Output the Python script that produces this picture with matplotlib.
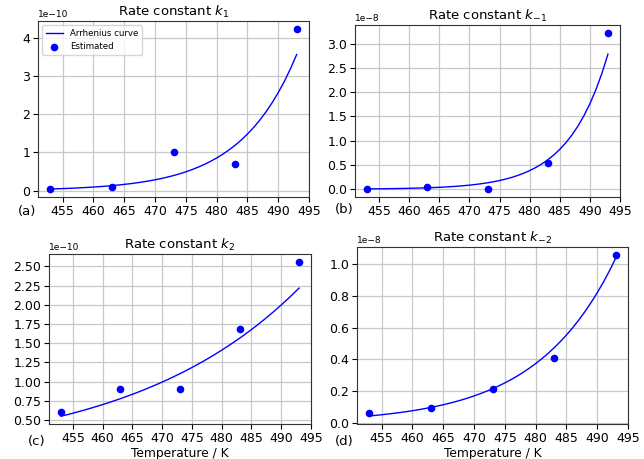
import numpy as np
from matplotlib import pyplot as plt

# temperatures of the estimates
T_est = [453, 463, 473, 483, 493]
T_fit = list(range(453, 494))

# k1 (x1e-10)
k1_est = [0.05, 0.10, 1.00, 0.70, 4.23]
k1_fit = [0.0440, 0.0491, 0.0548, 0.0612, 0.0683, 0.0762, 0.0850, 0.0949, 0.1059, 0.1182,
          0.1320, 0.1473, 0.1644, 0.1835, 0.2048, 0.2286, 0.2551, 0.2848, 0.3178, 0.3547,
          0.396, 0.442, 0.493, 0.551, 0.615, 0.686, 0.766, 0.855, 0.954, 1.065,
          1.188, 1.326, 1.480, 1.652, 1.844, 2.058, 2.297, 2.564, 2.861, 3.194,
          3.564]
# k-1 (x1e-8)
km1_est = [0.0, 0.05, 0.0, 0.53, 3.22]
km1_fit = [0.00621, 0.00723, 0.00843, 0.00982, 0.01144, 0.01332, 0.01552, 0.01808, 0.02106, 0.02453,
           0.0286, 0.0333, 0.0388, 0.0452, 0.0527, 0.0613, 0.0715, 0.0833, 0.0970, 0.1130,
           0.1314, 0.1531, 0.1783, 0.2077, 0.2420, 0.2819, 0.3284, 0.3825, 0.4456, 0.5190,
           0.6043, 0.7040, 0.8200, 0.9553, 1.1128, 1.2963, 1.5101, 1.7591, 2.0492, 2.3871,
           2.78]
# k2 (x1e-10)
k2_est = [0.60, 0.90, 0.90, 1.68, 2.56]
k2_fit = [0.550, 0.5695, 0.5898, 0.6107, 0.6323, 0.6548, 0.6780, 0.7021, 0.7270, 0.7528,
          0.7794, 0.8071, 0.8358, 0.8654, 0.8961, 0.9279, 0.9608, 0.9949, 1.0302, 1.0668,
          1.1044, 1.1436, 1.1843, 1.2263, 1.2697, 1.3148, 1.3614, 1.4098, 1.4598, 1.5116,
          1.5649, 1.6205, 1.6781, 1.7376, 1.7992, 1.8630, 1.9291, 1.9977, 2.0685, 2.1419,
          2.2175]
# k-2 (x1e-8)
km2_est = [0.065, 0.093, 0.215, 0.41, 1.055]
km2_fit = [0.0450, 0.0487, 0.0526, 0.0569, 0.0616, 0.0666, 0.0720, 0.0779, 0.0842, 0.0911,
           0.0986, 0.1066, 0.1153, 0.1247, 0.1348, 0.1458, 0.1577, 0.1706, 0.1845, 0.1995,
           0.2158, 0.2334, 0.2524, 0.2730, 0.2952, 0.3193, 0.3454, 0.3735, 0.4039, 0.4368,
           0.4727, 0.5112, 0.5529, 0.5979, 0.6467, 0.6995, 0.7565, 0.8181, 0.8848, 0.9569,
           1.035]

titles = [r"Rate constant $k_1$", r"Rate constant $k_{-1}$",
          r"Rate constant $k_2$", r"Rate constant $k_{-2}$"]
scales = [1e-10, 1e-8, 1e-10, 1e-8]
letters = ["(a)", "(b)", "(c)", "(d)"]
xticks = [455, 460, 465, 470, 475, 480, 485, 490, 495]
yticks = [[0, 1, 2, 3, 4],
          [0.0, 0.5, 1.0, 1.5, 2.0, 2.5, 3.0],
          [0.50, 0.75, 1.00, 1.25, 1.50, 1.75, 2.00, 2.25, 2.50],
          [0.0, 0.2, 0.4, 0.6, 0.8, 1.0]]

fig = plt.figure(figsize=(6.44, 4.59), dpi=100)
# [left, bottom, width, height] in figure fraction
rects = [[38/644, 1-197/459, 271/644, 176/459],
         [355/644, 1-197/459, 265/644, 172/459],
         [49/644, 1-424/459, 262/644, 170/459],
         [357/644, 1-424/459, 271/644, 177/459]]
letter_pos = [(18/644, 1-212/459), (335/644, 1-210/459),
              (28/644, 1-442/459), (335/644, 1-442/459)]

data = [(k1_fit, k1_est), (km1_fit, km1_est), (k2_fit, k2_est), (km2_fit, km2_est)]
for i in range(4):
    ax = fig.add_axes(rects[i])
    fit, est = data[i]
    ax.plot(T_fit, np.array(fit)*scales[i], color='b', lw=1, label="Arrhenius curve")
    ax.scatter(T_est, np.array(est)*scales[i], color='b', s=20, zorder=3, label="Estimated")
    ax.grid(True, color='#c8c8c8', lw=0.9)
    ax.set_axisbelow(True)
    ax.set_title(titles[i], fontsize=9.5, pad=4)
    ax.set_xticks(xticks)
    ax.set_yticks(np.array(yticks[i])*scales[i])
    ax.tick_params(labelsize=9, pad=2)
    ax.yaxis.get_offset_text().set_fontsize(6.5)
    for sp in ax.spines.values():
        sp.set_color('#333333')
    if i >= 2:
        ax.set_xlabel("Temperature / K", fontsize=8.8, labelpad=1.5)
    if i == 0:
        ax.legend(loc="upper left", fontsize=6.2)
    fig.text(letter_pos[i][0], letter_pos[i][1], letters[i], fontsize=9.5,
             ha='left', va='center')

plt.savefig("out.png", dpi=100)
